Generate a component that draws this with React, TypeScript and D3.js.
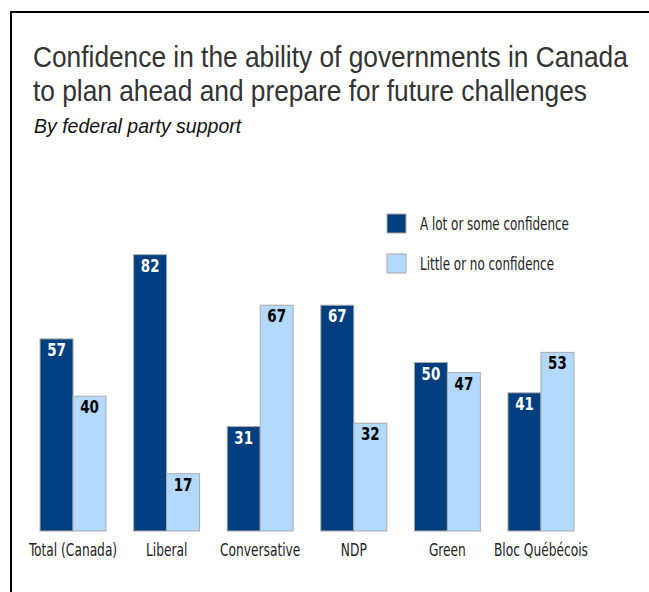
import React from "react";
import * as d3 from "d3";

const categories = ["Total (Canada)", "Liberal", "Conversative", "NDP", "Green", "Bloc Québécois"];
const seriesNames = ["A lot or some confidence", "Little or no confidence"];
const confident = [57, 82, 31, 67, 50, 41];
const notConfident = [40, 17, 67, 32, 47, 53];
const colors = ["#003f7f", "#b3d9ff"];

const W = 649;
const H = 592;
const condensed = "'DejaVu Sans Condensed', 'DejaVu Sans', sans-serif";
const arial = "'Liberation Sans', Arial, sans-serif";

function NarrowText({ x, y, sx, children, ...rest }: any) {
  return (
    <text transform={`translate(${x},${y}) scale(${sx},1)`} {...rest}>
      {children}
    </text>
  );
}

export default function App() {
  const x = d3.scaleBand<string>().domain(categories).range([26, 588]).paddingInner(0.295).paddingOuter(0.15);
  const x1 = d3.scaleBand<number>().domain([0, 1]).range([0, x.bandwidth()]);
  const y = d3.scaleLinear().domain([0, 100]).range([531, 194]);
  const series = [confident, notConfident];

  return (
    <svg width={W} height={H} style={{ position: "absolute", left: 0, top: 0 }}>
      <rect width={W} height={H} fill="#fff" />
      <line x1={11} y1={11} x2={11} y2={H} stroke="#000" strokeWidth={2} />
      <line x1={10} y1={12} x2={W} y2={12} stroke="#000" strokeWidth={2} />
      <NarrowText x={33} y={67} sx={0.907} fontFamily={arial} fontSize={29} fill="#333">
        Confidence in the ability of governments in Canada
      </NarrowText>
      <NarrowText x={33} y={101} sx={0.907} fontFamily={arial} fontSize={29} fill="#333">
        to plan ahead and prepare for future challenges
      </NarrowText>
      <NarrowText x={34} y={133} sx={0.93} fontFamily={arial} fontSize={21} fontStyle="italic" fill="#111">
        By federal party support
      </NarrowText>
      {seriesNames.map((s, i) => (
        <g key={s}>
          <rect x={387} y={214 + i * 40} width={19} height={19} fill={colors[i]} stroke="#aaa" strokeWidth={1} />
          <NarrowText x={420} y={229.5 + i * 40} sx={0.76} fontFamily={condensed} fontSize={17.5} fill="#222">
            {s}
          </NarrowText>
        </g>
      ))}
      {categories.map((c, ci) => (
        <g key={c} transform={`translate(${x(c)},0)`}>
          {series.map((vals, si) => {
            const v = vals[ci];
            const bx = x1(si)!;
            const bw = x1.bandwidth();
            return (
              <g key={si}>
                <rect x={bx} y={y(v)} width={bw} height={y(0) - y(v)} fill={colors[si]} stroke="#aaa" strokeWidth={1} />
                <NarrowText
                  x={bx + bw / 2}
                  y={y(v) + 17}
                  sx={0.83}
                  textAnchor="middle"
                  fontFamily={condensed}
                  fontWeight="bold"
                  fontSize={18}
                  fill={si === 0 ? "#fff" : "#000"}
                >
                  {v}
                </NarrowText>
              </g>
            );
          })}
          <NarrowText x={x.bandwidth() / 2} y={556} sx={0.8} textAnchor="middle" fontFamily={condensed} fontSize={17} fill="#222">
            {c}
          </NarrowText>
        </g>
      ))}
    </svg>
  );
}
